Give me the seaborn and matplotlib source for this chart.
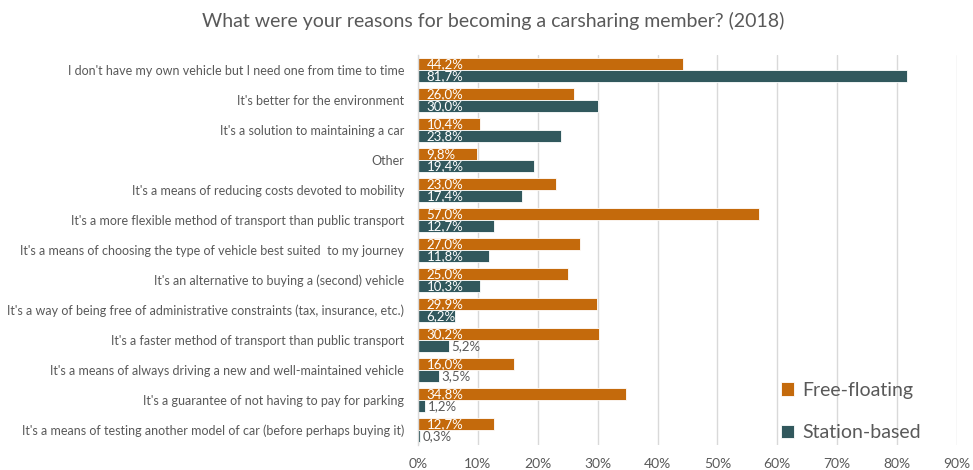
import matplotlib
matplotlib.use("Agg")
import matplotlib.pyplot as plt
import seaborn as sns
import pandas as pd

reasons = [
    "I don't have my own vehicle but I need one from time to time",
    "It's better for the environment",
    "It's a solution to maintaining a car",
    "Other",
    "It's a means of reducing costs devoted to mobility",
    "It's a more flexible method of transport than public transport",
    "It's a means of choosing the type of vehicle best suited  to my journey",
    "It's an alternative to buying a (second) vehicle",
    "It's a way of being free of administrative constraints (tax, insurance, etc.)",
    "It's a faster method of transport than public transport",
    "It's a means of always driving a new and well-maintained vehicle",
    "It's a guarantee of not having to pay for parking",
    "It's a means of testing another model of car (before perhaps buying it)",
]
free_floating = [44.2, 26.0, 10.4, 9.8, 23.0, 57.0, 27.0, 25.0, 29.9, 30.2, 16.0, 34.8, 12.7]
station_based = [81.7, 30.0, 23.8, 19.4, 17.4, 12.7, 11.8, 10.3, 6.2, 5.2, 3.5, 1.2, 0.3]
series_names = ["Free-floating", "Station-based"]
x_ticks = [0, 10, 20, 30, 40, 50, 60, 70, 80, 90]

df = pd.DataFrame({
    "reason": reasons * 2,
    "share": free_floating + station_based,
    "type": [series_names[0]] * len(reasons) + [series_names[1]] * len(reasons),
})

sns.set_theme(style="white")
plt.rcParams["font.family"] = ["Lato", "DejaVu Sans"]

text_grey = "#595959"
colors = {"Free-floating": "#C46A0C", "Station-based": "#31585D"}

fig = plt.figure(figsize=(9.73, 4.70), dpi=100)
ax = fig.add_axes([0.4296, 0.053, 0.5540, 0.830])

sns.barplot(data=df, y="reason", x="share", hue="type", orient="h",
            palette=colors, saturation=1, width=0.8, edgecolor="white", linewidth=0.6,
            order=reasons, hue_order=series_names, ax=ax)

ax.set_xlim(0, 90)
ax.set_ylim(len(reasons) - 0.5, -0.5)
ax.set_xticks(x_ticks)
ax.set_xticklabels([f"{t}%" for t in x_ticks], color=text_grey, fontsize=10)
ax.tick_params(axis="y", labelsize=9, labelcolor=text_grey, length=0, pad=10)
ax.tick_params(axis="x", length=0, pad=9)
ax.set_xlabel("")
ax.set_ylabel("")
ax.xaxis.grid(True, color="#D9D9D9", linewidth=1)
ax.set_axisbelow(True)
for side in ["top", "right", "bottom"]:
    ax.spines[side].set_visible(False)
ax.spines["left"].set_color("#D9D9D9")
ax.spines["left"].set_linewidth(1)

# value labels: inside the base for long bars, past the end for short ones
for container, values in zip(ax.containers, [free_floating, station_based]):
    for bar, v in zip(container, values):
        yc = bar.get_y() + bar.get_height() / 2
        label = f"{v:.1f}%".replace(".", ",")
        if v >= 6:
            ax.text(1.4, yc, label, ha="left", va="center", color="white", fontsize=9.5)
        else:
            ax.text(v + 0.4, yc, label, ha="left", va="center", color=text_grey, fontsize=9.5)

leg = ax.legend(loc="lower right", bbox_to_anchor=(0.965, -0.035), frameon=False,
                fontsize=14, labelcolor=text_grey, handlelength=0.7, handleheight=0.7,
                handletextpad=0.4, labelspacing=1.3)

fig.suptitle("What were your reasons for becoming a carsharing member? (2018)",
             x=0.507, y=0.975, fontsize=14, color=text_grey)

fig.savefig("out.png", dpi=100)
